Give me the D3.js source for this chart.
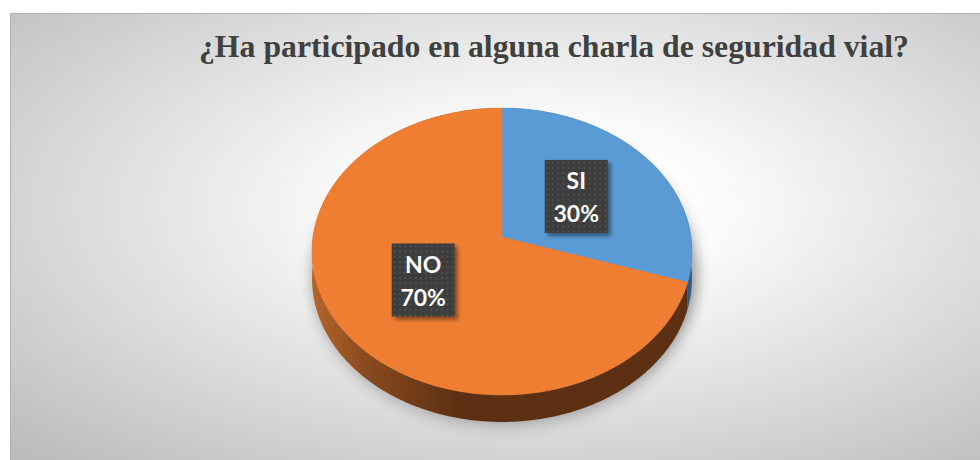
<!DOCTYPE html>
<html><head><meta charset="utf-8">
<script src="https://cdn.jsdelivr.net/npm/d3@7"></script>
<style>html,body{margin:0;padding:0;background:#fff;}svg{display:block;}</style>
</head><body>
<svg id="chart" width="980" height="460"></svg>
<script>
const titleText = "¿Ha participado en alguna charla de seguridad vial?";
const categories = ["SI", "NO"];
const values = [30, 70];
const topColors = ["#5b9bd5", "#ef7e32"];
const sideDark = ["#2f5b86", "#5e3013"];
const sideLight = ["#4f86bd", "#b4642a"];

const W = 980, H = 460;
const svg = d3.select("#chart");
const defs = svg.append("defs");

// background radial gradient
const bg = defs.append("radialGradient").attr("id", "bg")
  .attr("cx", "54%").attr("cy", "42%").attr("r", "75%");
bg.append("stop").attr("offset", "0").attr("stop-color", "#ffffff");
bg.append("stop").attr("offset", "0.25").attr("stop-color", "#fbfbfb");
bg.append("stop").attr("offset", "1").attr("stop-color", "#bcbcbc");

svg.append("rect").attr("x", 10.5).attr("y", 13.5).attr("width", W).attr("height", H)
  .attr("fill", "url(#bg)").attr("stroke", "#b2b2b2").attr("stroke-width", 1);

// title
svg.append("text").attr("x", 199).attr("y", 57)
  .attr("font-family", "'Liberation Serif','Times New Roman',serif")
  .attr("font-weight", "bold").attr("font-size", 30.5).attr("fill", "#404040")
  .attr("textLength", 710).attr("lengthAdjust", "spacingAndGlyphs")
  .text(titleText);

// projection of the tilted pie
const cx = 502, cy = 237, R = 189, A = 142, k = 0.101, depth = 27;
function proj(theta, f, dz) {
  const u = f * Math.sin(theta), v = -f * Math.cos(theta);
  const den = 1 - k * v;
  return [cx + R * u / den, cy + A * v / den + (dz || 0)];
}
function arcPts(a0, a1, f, dz) {
  const n = Math.max(2, Math.ceil((a1 - a0) / 0.01));
  return d3.range(n + 1).map(i => proj(a0 + (a1 - a0) * i / n, f, dz));
}
const line = d3.line();

const pie = d3.pie().sort(null).value(d => d)
  .startAngle(0).endAngle(2 * Math.PI);
const arcs = pie(values);
const total = d3.sum(values);

// shadow
const sh = defs.append("filter").attr("id", "pieShadow")
  .attr("x", "-20%").attr("y", "-20%").attr("width", "140%").attr("height", "140%");
sh.append("feGaussianBlur").attr("stdDeviation", 8);
const full = arcPts(0, 2 * Math.PI, 1.0, 0);
const shadowPts = full.map(p => [p[0] + 4, p[1] + depth * 0.5 + 4]);
svg.append("path").attr("d", line(shadowPts) + "Z")
  .attr("fill", "#000").attr("opacity", 0.3).attr("filter", "url(#pieShadow)");
svg.append("path").attr("d", line(arcPts(0, 2 * Math.PI, 1.0, depth).map(p => [p[0] + 2, p[1] + 4])) + "Z")
  .attr("fill", "#000").attr("opacity", 0.22).attr("filter", "url(#pieShadow)");

// side gradients
arcs.forEach((a, i) => {
  const g = defs.append("linearGradient").attr("id", "side" + i)
    .attr("gradientUnits", "userSpaceOnUse")
    .attr("x1", cx - R).attr("x2", cx + R).attr("y1", 0).attr("y2", 0);
  g.append("stop").attr("offset", "0").attr("stop-color", sideLight[i]);
  g.append("stop").attr("offset", "0.14").attr("stop-color", d3.interpolateRgb(sideLight[i], sideDark[i])(0.5));
  g.append("stop").attr("offset", "0.38").attr("stop-color", sideDark[i]);
  g.append("stop").attr("offset", "1").attr("stop-color", sideDark[i]);
});

// sides
arcs.forEach((a, i) => {
  const topEdge = arcPts(a.startAngle, a.endAngle, 1, 0);
  const botEdge = arcPts(a.startAngle, a.endAngle, 1, depth).reverse();
  svg.append("path").attr("d", line(topEdge.concat(botEdge)) + "Z")
    .attr("fill", "url(#side" + i + ")");
});

// tops
arcs.forEach((a, i) => {
  const pts = [proj(0, 0, 0)].concat(arcPts(a.startAngle, a.endAngle, 1, 0));
  svg.append("path").attr("d", line(pts) + "Z")
    .attr("fill", topColors[i]).attr("stroke", topColors[i]).attr("stroke-width", 0.5);
});

// label box pattern + shadow
const pat = defs.append("pattern").attr("id", "dots").attr("patternUnits", "userSpaceOnUse")
  .attr("width", 5.3).attr("height", 5.3);
pat.append("rect").attr("width", 5.3).attr("height", 5.3).attr("fill", "#3e3e3e");
pat.append("rect").attr("x", 2).attr("y", 2).attr("width", 1.4).attr("height", 1.4).attr("fill", "#5c5c5c");
const ls = defs.append("filter").attr("id", "labShadow")
  .attr("x", "-20%").attr("y", "-20%").attr("width", "150%").attr("height", "150%");
ls.append("feDropShadow").attr("dx", 3).attr("dy", 3).attr("stdDeviation", 2)
  .attr("flood-color", "#000").attr("flood-opacity", 0.45);

const fmt = d3.format(".0%");
const bw = 63, bh = 73;
arcs.forEach((a, i) => {
  const mid = (a.startAngle + a.endAngle) / 2;
  const [lx, ly] = proj(mid, 0.5, 0);
  const g = svg.append("g").attr("transform", `translate(${lx - bw / 2},${ly - bh / 2})`);
  g.append("rect").attr("width", bw).attr("height", bh).attr("fill", "url(#dots)")
    .attr("filter", "url(#labShadow)");
  const t = g.append("text").attr("text-anchor", "middle")
    .attr("font-family", "Lato, 'Open Sans', sans-serif").attr("font-weight", "bold")
    .attr("font-size", 23).attr("fill", "#ffffff");
  t.append("tspan").attr("x", bw / 2).attr("y", 29).text(categories[i]);
  t.append("tspan").attr("x", bw / 2).attr("y", 62).text(fmt(values[i] / total));
});
</script>
</body></html>
